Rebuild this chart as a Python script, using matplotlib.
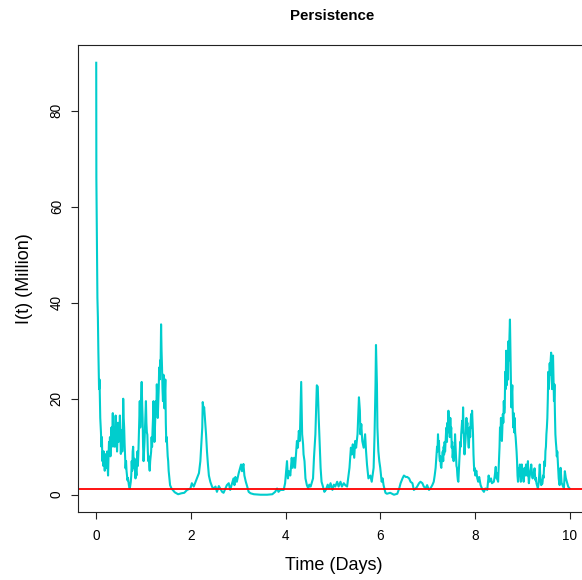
import matplotlib
matplotlib.use("Agg")
import matplotlib.pyplot as plt
import numpy as np

title = "Persistence"
xlabel = "Time (Days)"
ylabel = "I(t) (Million)"
xticks = [0, 2, 4, 6, 8, 10]
yticks = [0, 20, 40, 60, 80]
threshold = 1.2

# initial decay (irregular sampling)
seg_a_time = [0.0, 0.003, 0.008, 0.015, 0.025, 0.035, 0.045, 0.06, 0.07, 0.085]
seg_a_value = [90, 66, 60, 50, 41, 37, 30, 22, 24, 16]

# first outbreak cluster, sampled every 0.01 day from t = 0.10
seg_b_start = 0.10
seg_b_value = [
    13, 10, 12, 7, 9, 6, 9, 8, 5, 8, 5.5, 8.5, 7, 9, 6, 4, 8, 11, 9, 12,
    8, 11, 14, 10, 13, 17, 12.5, 14, 10, 13, 11, 16.5, 10, 13, 9, 12, 15, 11, 14, 12,
    16.5, 12, 8.5, 11, 13.5, 9, 12, 20, 16, 14, 10.5, 8, 5.5, 7, 5, 4, 3, 3.5, 2.7, 2,
    1.5, 1.3, 2, 2.7, 4, 7, 5, 9, 10, 7, 5.5, 7.5, 5, 3.4, 5, 4, 6, 9, 6, 8.5,
    12, 15, 19.5, 14, 18, 21, 23.5, 19, 16, 10, 7, 9, 11, 14, 17, 19.5, 15, 13, 12.5, 9,
    7, 8, 6, 5, 7, 8, 9, 12, 10, 13.5, 16, 19.5, 14, 11, 14, 17, 19.5, 17, 23, 20,
    16, 19, 22, 26.5, 24, 28, 27, 35.5, 30, 26.5, 22, 19.5, 25, 23.5, 18, 21, 24, 15, 11, 12,
    10, 8, 7, 5, 4, 3, 2,
]

# middle period (irregular sampling)
seg_c_time = [
    1.59, 1.66, 1.73, 1.80, 1.86, 1.92, 1.99, 2.02, 2.06, 2.10, 2.13, 2.17, 2.20, 2.22, 2.24, 2.25,
    2.27, 2.28, 2.30, 2.32, 2.34, 2.36, 2.38, 2.41, 2.45, 2.48, 2.52, 2.55, 2.59, 2.62, 2.66, 2.69,
    2.73, 2.76, 2.80, 2.83, 2.87, 2.90, 2.92, 2.94, 2.97, 3.01, 3.04, 3.06, 3.08, 3.11, 3.13, 3.16,
    3.19, 3.22, 3.26, 3.33, 3.47, 3.61, 3.72, 3.78, 3.82, 3.85, 3.89, 3.96, 3.99, 4.03, 4.05, 4.07,
    4.10, 4.13, 4.15, 4.18, 4.20, 4.24, 4.26, 4.28, 4.30, 4.33, 4.35, 4.37, 4.38, 4.40, 4.42, 4.45,
    4.48, 4.50, 4.53, 4.58, 4.60, 4.63, 4.66, 4.68, 4.70, 4.72, 4.74, 4.76, 4.79, 4.82, 4.85, 4.89,
    4.92, 4.95, 4.99, 5.02, 5.05, 5.09, 5.12, 5.16, 5.19, 5.23, 5.26, 5.30, 5.33, 5.35, 5.38, 5.40,
    5.42, 5.45, 5.47, 5.49, 5.52, 5.54, 5.55, 5.57, 5.58, 5.60, 5.62, 5.65, 5.68, 5.70, 5.72, 5.75,
    5.79, 5.82, 5.86, 5.88, 5.90, 5.91, 5.93, 5.94, 5.96, 5.98, 6.00, 6.03, 6.05, 6.07, 6.11, 6.14,
    6.21, 6.29, 6.36, 6.40, 6.43, 6.47, 6.50, 6.54, 6.57, 6.61, 6.64, 6.68, 6.71, 6.75, 6.78, 6.82,
    6.85, 6.89, 6.92, 6.96, 6.99, 7.03, 7.06, 7.10,
]
seg_c_value = [
    1.3, 0.5, 0.1, 0.3, 0.4, 1, 1.3, 2.4, 1.7, 2.7, 3.4, 4.5, 7, 10.5, 14, 19.3,
    17.5, 18.2, 15.4, 12.6, 9, 6.3, 4, 2.7, 1.6, 1.3, 1.7, 0.6, 1.8, 1.3, 0.6, 0.4,
    1.3, 2, 2.4, 1, 2.4, 3.4, 2, 3.7, 2.7, 4.5, 5.6, 6.3, 4.9, 6.4, 4, 2.7,
    1.7, 0.6, 0.3, 0.1, 0, 0, 0.1, 0.6, 1.3, 0.6, 1, 1, 2.4, 7, 3.4, 4.9,
    4, 7.7, 5.6, 7.7, 5.6, 11.2, 9.8, 13.3, 11.2, 23.5, 12.6, 10.5, 8.4, 7, 3.4, 2,
    1.3, 2.1, 1.7, 3.4, 7.7, 12.6, 22.8, 22.5, 16, 10.5, 5.6, 2.7, 1.7, 0.6, 1, 2.1,
    1.3, 2.4, 1, 2.1, 1.7, 2.7, 1.7, 2.7, 1.7, 2.4, 2, 1.7, 4, 5.6, 9.8, 8.4,
    10.5, 7.7, 11.2, 9.8, 12.6, 17.5, 20.3, 17.5, 12.6, 14.7, 11.2, 9.8, 12.6, 9.1, 6.3, 3.4,
    4, 2.7, 5.6, 12.6, 23, 31.2, 23, 14, 9.1, 7, 5.6, 2.7, 3.4, 2, 0.4, 0.2,
    0.4, 0, 0.2, 1.3, 2.4, 3.4, 4, 3.7, 3.7, 3.4, 2.7, 2.4, 1, 1.3, 1.7, 2.4,
    2.7, 2.4, 1.7, 1.3, 2, 1, 1.3, 2,
]

# outbreak cluster around day 7.5, sampled every 0.01 day from t = 7.13
seg_d_start = 7.13
seg_d_value = [
    2.7, 3.3, 4, 4.8, 5.6, 7, 8.4, 10, 9, 12.6, 10, 11.2, 8, 7, 8, 6, 5.6, 7, 7.7, 9,
    7, 10, 8.4, 11, 9, 11.2, 13, 14, 11, 15, 13, 17.5, 15, 14.7, 12, 16, 13, 14, 9.8, 11,
    7.7, 9, 7, 10, 8, 12.6, 10, 8, 6, 5.6, 4, 3, 2.7, 5, 7, 9, 11, 10, 12.6, 14,
    15.4, 13, 18.2, 14, 11, 8.4, 10, 11.2, 13, 16, 14, 15, 13.3, 11, 9.8, 12, 14, 12, 15, 16.8,
    14, 17.5, 15, 12.6, 8.4, 6, 4.9, 5.5,
]

# quiet spell (irregular sampling)
seg_e_time = [8.01, 8.03, 8.05, 8.07, 8.09, 8.12, 8.16, 8.19, 8.22, 8.26, 8.29, 8.31, 8.34, 8.36, 8.40, 8.42]
seg_e_value = [4, 5, 3.4, 2.7, 3.7, 2, 1, 0.6, 1.3, 1, 4, 2.7, 3.4, 2.4, 2.7, 4]

# last outbreaks, sampled every 0.01 day from t = 8.44
seg_f_start = 8.44
seg_f_value = [
    5.8, 4, 3.4, 4.5, 3, 2.7, 5, 7, 10, 14, 12, 16, 13, 11.2, 14, 16.8, 15, 19.5, 17, 18.2,
    25.6, 22, 30, 22.8, 25, 27.4, 24, 32, 28, 33, 36.5, 29.6, 24, 18.2, 21, 22.8, 17, 14, 17, 13,
    16, 13, 12, 10.5, 9, 7, 4, 2.7, 4, 5.6, 4, 6.3, 4, 2.7, 4.5, 6.3, 5, 4, 3.5, 2.7,
    4, 5.6, 4, 5, 6.3, 5, 4, 5.5, 7, 4, 2.4, 3.5, 4, 4.9, 5.5, 6.3, 5, 4, 3.4, 4.5,
    4, 4.9, 5.5, 4, 3, 3.5, 2.4, 2, 1.7, 1.3, 2, 2.7, 4.5, 6.3, 4, 3, 2, 3, 2.2, 2.7,
    4, 3.5, 5.6, 7, 6, 9.1, 10, 12.6, 14, 16, 20, 25.6, 22, 24, 27.4, 25, 28, 29.6, 26, 22,
    26, 29, 24, 19.5, 23, 17, 12.6, 11, 9.8, 8, 9, 7, 5, 3.4, 2.5, 2, 3.5, 5.6, 4, 2.5,
]

# tail (irregular sampling)
seg_g_time = [9.85, 9.88, 9.90, 9.92, 9.95, 9.97, 10.00]
seg_g_value = [2, 1.3, 4.9, 3.5, 2.4, 1.7, 1.3]

time_days = np.concatenate([
    seg_a_time,
    seg_b_start + 0.01 * np.arange(len(seg_b_value)),
    seg_c_time,
    seg_d_start + 0.01 * np.arange(len(seg_d_value)),
    seg_e_time,
    seg_f_start + 0.01 * np.arange(len(seg_f_value)),
    seg_g_time,
])
infected_million = np.concatenate([
    seg_a_value, seg_b_value, seg_c_value, seg_d_value, seg_e_value, seg_f_value, seg_g_value,
])
order = np.argsort(time_days, kind='stable')
time_days = time_days[order]
infected_million = infected_million[order]

plt.rcParams['font.family'] = ['Liberation Sans', 'DejaVu Sans']

fig = plt.figure(figsize=(5.82, 5.80), dpi=100)
ax = fig.add_axes([78 / 582, (580 - 512) / 580, 511 / 582, (512 - 45) / 580])

ax.plot(time_days, infected_million, color='#00CDCD', linewidth=1.5, solid_joinstyle='round')
ax.axhline(threshold, color='#FF0000', linewidth=1.3)

ax.set_xlim(-0.385, 10.41)
ax.set_ylim(-3.6, 93.7)
ax.set_xticks(xticks)
ax.set_yticks(yticks)
ax.set_xticklabels([str(v) for v in xticks], fontsize=9.8)
ax.set_yticklabels([str(v) for v in yticks], fontsize=9.8, rotation=90, va='center')
ax.tick_params(direction='out', length=5.2, width=0.8, color='#222222')
ax.tick_params(axis='x', pad=7)
ax.tick_params(axis='y', pad=5)
for s in ax.spines.values():
    s.set_linewidth(0.8)
    s.set_color('#222222')

ax.set_xlabel(xlabel, fontsize=13, labelpad=10)
ax.set_ylabel(ylabel, fontsize=13, labelpad=12)
fig.text(0.5 * (78 + 587) / 582, 1 - 16 / 580, title, fontsize=10.8, fontweight='bold', ha='center', va='center')

fig.savefig('out.png', dpi=100)
